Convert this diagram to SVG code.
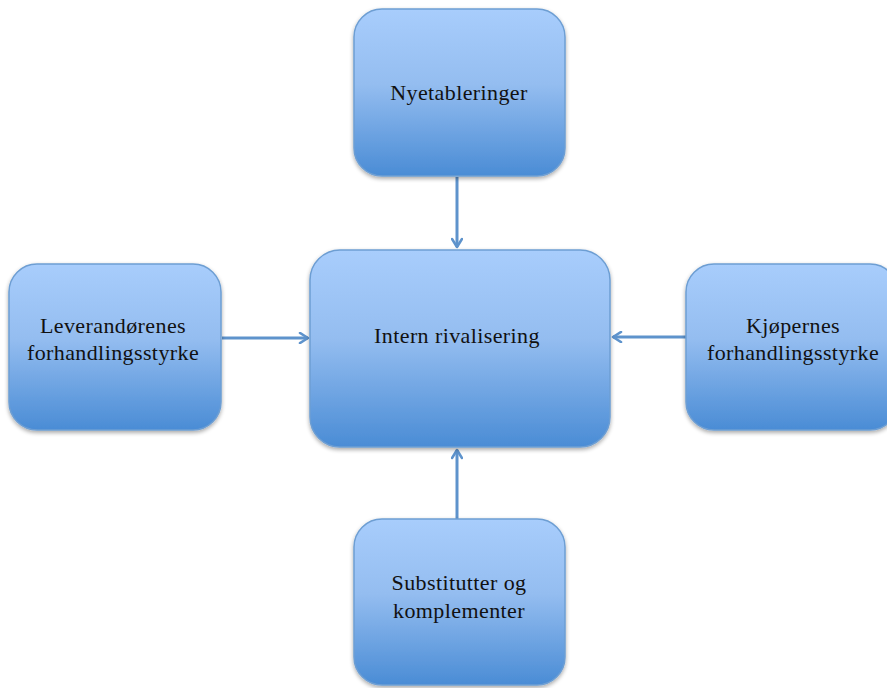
<svg xmlns="http://www.w3.org/2000/svg" width="887" height="688" viewBox="0 0 887 688">
<defs>
<linearGradient id="g" x1="0" y1="0" x2="0" y2="1">
<stop offset="0" stop-color="#a8cdfc"/>
<stop offset="0.45" stop-color="#94bdf0"/>
<stop offset="1" stop-color="#4a8cd5"/>
</linearGradient>
<filter id="sh" x="-10%" y="-10%" width="120%" height="125%">
<feGaussianBlur in="SourceAlpha" stdDeviation="2"/>
<feOffset dy="2" result="b"/>
<feComponentTransfer><feFuncA type="linear" slope="0.35"/></feComponentTransfer>
<feMerge><feMergeNode/><feMergeNode in="SourceGraphic"/></feMerge>
</filter>
<marker id="ah" viewBox="0 0 12 12" refX="10" refY="6" markerWidth="12" markerHeight="12" markerUnits="userSpaceOnUse" orient="auto">
<path d="M2,1 L10,6 L2,11" fill="none" stroke="#5e93cc" stroke-width="2.6" stroke-linecap="round" stroke-linejoin="round"/>
</marker>
</defs>
<style>
.box{fill:url(#g);stroke:#6d9ed3;stroke-width:1.5;filter:url(#sh)}
.t{font-family:"Liberation Serif","Times New Roman",serif;font-size:22px;fill:#111;text-anchor:middle;letter-spacing:0.4px}
.c{stroke:#5e93cc;stroke-width:3;fill:none;marker-end:url(#ah)}
</style>
<rect width="887" height="688" fill="#ffffff"/>
<g id="connectors">
<line class="c" x1="457" y1="177" x2="457" y2="247"/>
<line class="c" x1="222" y1="338" x2="308" y2="338"/>
<line class="c" x1="686" y1="337" x2="613" y2="337"/>
<line class="c" x1="457" y1="519" x2="457" y2="450"/>
</g>
<g id="n-nyetableringer">
<rect class="box" x="354" y="9" width="211" height="167" rx="28"/>
<text class="t" x="459" y="100">Nyetableringer</text>
</g>
<g id="n-intern">
<rect class="box" x="310" y="250" width="300" height="197" rx="30"/>
<text class="t" x="457" y="343">Intern rivalisering</text>
</g>
<g id="n-leverandorer">
<rect class="box" x="9" y="264" width="212" height="166" rx="28"/>
<text class="t" x="113" y="333">Leverandørenes</text>
<text class="t" x="113" y="360">forhandlingsstyrke</text>
</g>
<g id="n-kjopere">
<rect class="box" x="686" y="264" width="212" height="166" rx="28"/>
<text class="t" x="793" y="333">Kjøpernes</text>
<text class="t" x="793" y="360">forhandlingsstyrke</text>
</g>
<g id="n-substitutter">
<rect class="box" x="354" y="519" width="211" height="166" rx="28"/>
<text class="t" x="459" y="590">Substitutter og</text>
<text class="t" x="459" y="618">komplementer</text>
</g>
</svg>
